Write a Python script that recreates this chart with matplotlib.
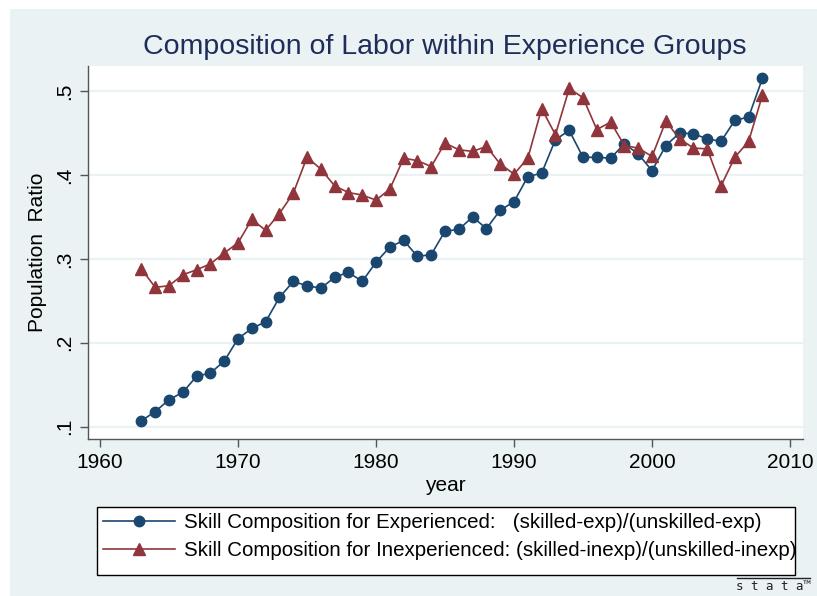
import matplotlib
matplotlib.use("Agg")
import matplotlib.pyplot as plt
from matplotlib.patches import Rectangle
from matplotlib.lines import Line2D

plt.rcParams['font.family'] = ['Liberation Sans', 'DejaVu Sans']

years = list(range(1963, 2009))

# (skilled-exp)/(unskilled-exp)
experienced = [0.107, 0.118, 0.132, 0.141, 0.160, 0.164, 0.178, 0.205, 0.217, 0.225,
               0.254, 0.273, 0.268, 0.265, 0.278, 0.284, 0.273, 0.296, 0.314, 0.322,
               0.303, 0.305, 0.333, 0.335, 0.350, 0.336, 0.358, 0.368, 0.398, 0.402,
               0.442, 0.453, 0.421, 0.421, 0.420, 0.437, 0.425, 0.405, 0.435, 0.450,
               0.449, 0.443, 0.440, 0.465, 0.469, 0.515]

# (skilled-inexp)/(unskilled-inexp)
inexperienced = [0.288, 0.266, 0.268, 0.281, 0.287, 0.294, 0.307, 0.319, 0.347, 0.334,
                 0.354, 0.378, 0.421, 0.407, 0.387, 0.379, 0.376, 0.370, 0.383, 0.420,
                 0.417, 0.410, 0.438, 0.430, 0.428, 0.434, 0.413, 0.401, 0.420, 0.479,
                 0.448, 0.503, 0.492, 0.454, 0.463, 0.435, 0.432, 0.422, 0.464, 0.443,
                 0.432, 0.431, 0.387, 0.421, 0.440, 0.495]

xticks = [1960, 1970, 1980, 1990, 2000, 2010]
yticks = [0.1, 0.2, 0.3, 0.4, 0.5]
ylabels = ['.1', '.2', '.3', '.4', '.5']

labels = ['Skill Composition for Experienced:   (skilled-exp)/(unskilled-exp)',
          'Skill Composition for Inexperienced: (skilled-inexp)/(unskilled-inexp)']

NAVY = '#1a476f'
MAROON = '#90353b'
BG = '#eaf2f3'
TITLE_C = '#1e2d5a'

W, H = 817, 596
fig = plt.figure(figsize=(W / 100, H / 100), dpi=100)
fig.patch.set_facecolor('white')
# stata graph region (light blue), white strip on top/left
fig.patches.append(Rectangle((10 / W, 0), 1 - 10 / W, 1 - 9 / H,
                             transform=fig.transFigure, facecolor=BG,
                             edgecolor='none', zorder=-10))

ax = fig.add_axes([88 / W, 1 - 439 / H, (803 - 88) / W, (439 - 66) / H])
ax.set_facecolor('white')

ax.plot(years, experienced, color=NAVY, lw=1.2, marker='o', ms=7.5,
        mec=NAVY, mfc=NAVY, zorder=3)
ax.plot(years, inexperienced, color=MAROON, lw=1.2, marker='^', ms=8.5,
        mec=MAROON, mfc=MAROON, zorder=3)

ax.set_xlim(1959.13, 2010.94)
ax.set_ylim(0.0853, 0.5298)
ax.set_xticks(xticks)
ax.set_yticks(yticks)
ax.set_yticklabels(ylabels)
ax.tick_params(axis='x', labelsize=15, length=6, width=1, color='#555555', pad=4)
ax.tick_params(axis='y', labelsize=15, length=6, width=1, color='#555555', pad=4,
               labelrotation=90)
for t in ax.get_yticklabels():
    t.set_va('center')
ax.grid(axis='y', color=BG, lw=1.6)
ax.set_axisbelow(True)
for s in ['top', 'right']:
    ax.spines[s].set_visible(False)
for s in ['left', 'bottom']:
    ax.spines[s].set_color('#555555')
    ax.spines[s].set_linewidth(1.0)

ax.set_xlabel('year', fontsize=15, labelpad=3)
ax.set_ylabel('Population  Ratio', fontsize=15, labelpad=6)

fig.text(445 / W, 1 - 47 / H, 'Composition of Labor within Experience Groups',
         ha='center', va='center', fontsize=20.5, color=TITLE_C)

# legend box (text runs slightly past the frame, as in the original)
fig.patches.append(Rectangle((97 / W, 1 - 575 / H), (795 - 97) / W, (575 - 507) / H,
                             transform=fig.transFigure, facecolor='white',
                             edgecolor='black', lw=1.0, zorder=1))
handles = [Line2D([], [], color=NAVY, lw=1.2, marker='o', ms=7.5),
           Line2D([], [], color=MAROON, lw=1.2, marker='^', ms=8.5)]
leg = fig.legend(handles, labels, loc='upper left',
                 bbox_to_anchor=(99 / W, 1 - 509 / H), fontsize=14.8,
                 frameon=False, handlelength=3.5, handletextpad=0.45,
                 labelspacing=0.45, borderpad=0.2, borderaxespad=0)
leg.set_zorder(2)

# stata logo
fig.text(773 / W, 1 - 586 / H, 's t a t a\u2122', ha='center', va='center',
         fontsize=9, family='DejaVu Sans Mono', color='#222222')
fig.add_artist(Line2D([737 / W, 810 / W], [1 - 578 / H, 1 - 578 / H],
                      transform=fig.transFigure, color='#222222', lw=1))

fig.savefig('out.png', dpi=100, facecolor=fig.get_facecolor())
